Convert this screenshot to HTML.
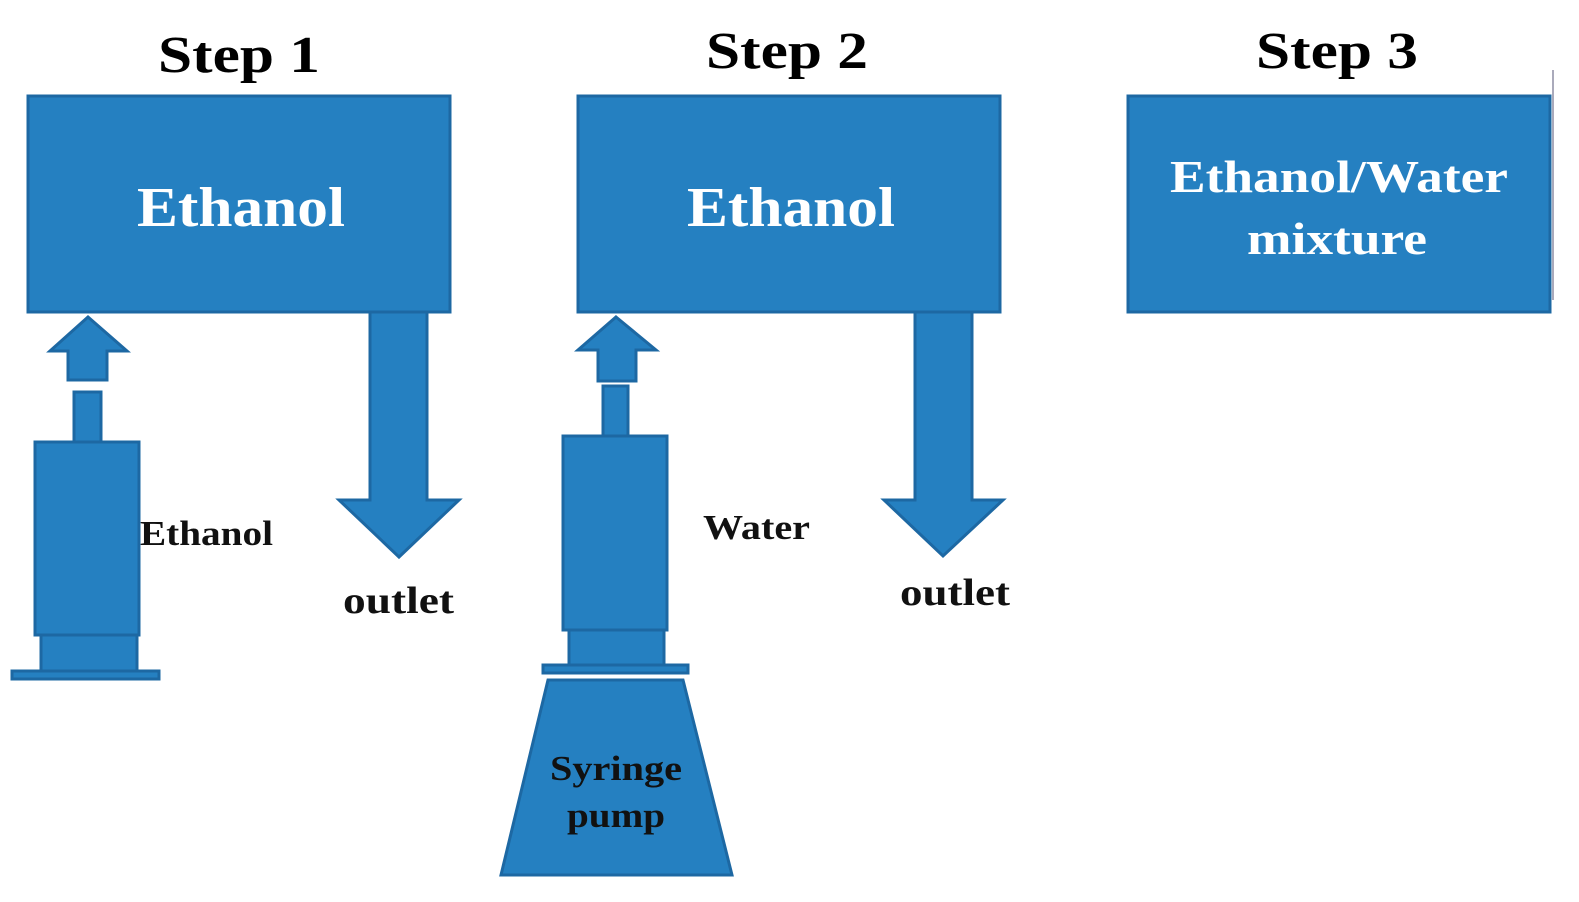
<!DOCTYPE html>
<html><head><meta charset="utf-8"><style>
html,body{margin:0;padding:0;background:#fff;}
svg{display:block}
</style></head><body>
<svg width="1579" height="902" viewBox="0 0 1579 902" xmlns="http://www.w3.org/2000/svg">
<g fill="#2580c1" stroke="#1d68a3" stroke-width="3">
<!-- Step 1 -->
<rect x="28" y="96" width="422" height="216"/>
<polygon points="88,317 127,351 107,351 107,380 68,380 68,351 50,351"/>
<rect x="74" y="392" width="27" height="50"/>
<rect x="35" y="442" width="104" height="193"/>
<rect x="41" y="635" width="96" height="36"/>
<rect x="12" y="671" width="147" height="8"/>
<polygon points="370,312 427,312 427,500 459,500 399,557 339,500 370,500"/>
<!-- Step 2 -->
<rect x="578" y="96" width="422" height="216"/>
<polygon points="616,317 656,350 636,350 636,381 598,381 598,350 578,350"/>
<rect x="603" y="386" width="25" height="50"/>
<rect x="563" y="436" width="104" height="194"/>
<rect x="569" y="630" width="95" height="35"/>
<rect x="543" y="665" width="145" height="8"/>
<polygon points="548,680 683,680 732,875 501,875"/>
<polygon points="915,312 972,312 972,500 1003,500 943,556 884,500 915,500"/>
<!-- Step 3 -->
<rect x="1128" y="96" width="422" height="216"/>
</g>
<line x1="1553" y1="70" x2="1553" y2="300" stroke="#aab" stroke-width="2"/>
<g font-family="Liberation Serif, serif" font-weight="bold" lengthAdjust="spacingAndGlyphs">
<text x="158" y="72" font-size="52" fill="#000" textLength="162" lengthAdjust="spacingAndGlyphs">Step 1</text>
<text x="706" y="68" font-size="52" fill="#000" textLength="162" lengthAdjust="spacingAndGlyphs">Step 2</text>
<text x="1256" y="68" font-size="52" fill="#000" textLength="162" lengthAdjust="spacingAndGlyphs">Step 3</text>
<text x="137" y="226" font-size="56" fill="#fff" textLength="208" lengthAdjust="spacingAndGlyphs">Ethanol</text>
<text x="687" y="226" font-size="56" fill="#fff" textLength="208" lengthAdjust="spacingAndGlyphs">Ethanol</text>
<text x="1170" y="192" font-size="46" fill="#fff" textLength="338" lengthAdjust="spacingAndGlyphs">Ethanol/Water</text>
<text x="1247" y="254" font-size="46" fill="#fff" textLength="180" lengthAdjust="spacingAndGlyphs">mixture</text>
<text x="140" y="545" font-size="35" fill="#111" textLength="133" lengthAdjust="spacingAndGlyphs">Ethanol</text>
<text x="343" y="613" font-size="38" fill="#111" textLength="111" lengthAdjust="spacingAndGlyphs">outlet</text>
<text x="703" y="539" font-size="35" fill="#111" textLength="107" lengthAdjust="spacingAndGlyphs">Water</text>
<text x="900" y="605" font-size="38" fill="#111" textLength="110" lengthAdjust="spacingAndGlyphs">outlet</text>
<text x="550" y="780" font-size="35" fill="#111" textLength="132" lengthAdjust="spacingAndGlyphs">Syringe</text>
<text x="567" y="827" font-size="35" fill="#111" textLength="98" lengthAdjust="spacingAndGlyphs">pump</text>
</g>
</svg>
</body></html>
